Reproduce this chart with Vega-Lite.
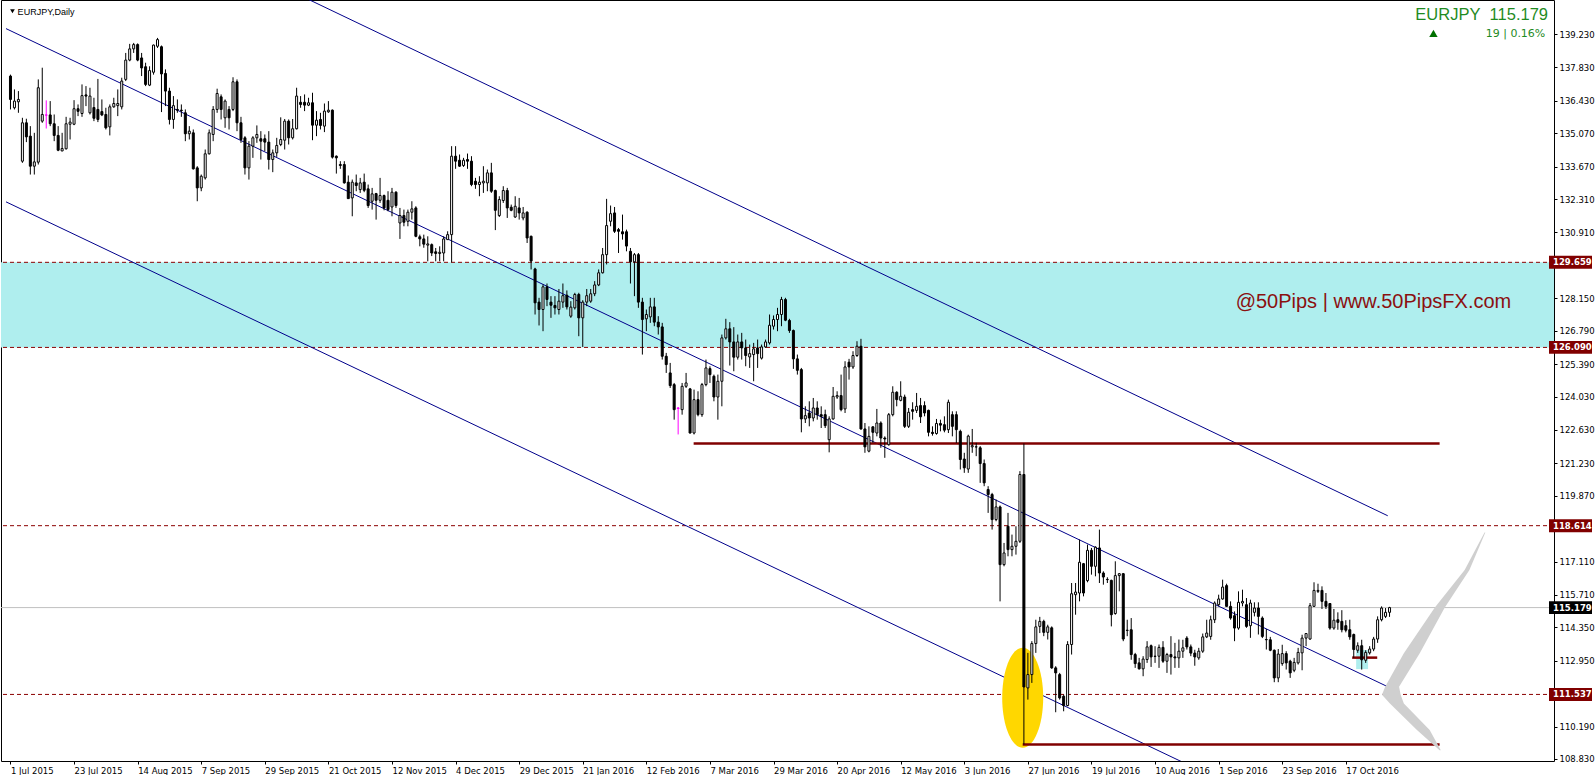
{
  "$schema": "https://vega.github.io/schema/vega-lite/v6.json",
  "width": 1553,
  "height": 761,
  "padding": 0,
  "background": "#FFFFFF",
  "config": {"font": "DejaVu Sans", "view": {"stroke": "#000000", "strokeWidth": 1}},
  "datasets": {
    "one": [{}],
    "zone": [{"lo": 126.09, "hi": 129.659}],
    "levels": [{"level": 129.659}, {"level": 126.09}, {"level": 118.614}, {"level": 111.537}],
    "price": [{"level": 115.179}],
    "tags": [{"level": 129.659, "kind": "level"}, {"level": 126.09, "kind": "level"}, {"level": 118.614, "kind": "level"}, {"level": 111.537, "kind": "level"}, {"level": 115.179, "kind": "price"}],
    "channel": [
      {"line": "upper", "i": 60, "p": 141.88}, {"line": "upper", "i": 346.55, "p": 119.03},
      {"line": "middle", "i": -1.125, "p": 139.46}, {"line": "middle", "i": 346.55, "p": 111.86},
      {"line": "lower", "i": -1.125, "p": 132.195}, {"line": "lower", "i": 346.55, "p": 104.6}
    ],
    "support": [{"from": 171.9, "to": 359.6, "level": 122.06}, {"from": 254.7, "to": 359.6, "level": 109.44}, {"from": 337.6, "to": 343.9, "level": 113.08}],
    "box": [{"from": 338.6, "to": 341.6, "lo": 112.6, "hi": 113.4}],
    "ellipse": [{"i": 254.7, "p": 111.4}],
    "chevron": [
      {"p": 118.33, "a": 370.9, "b": 371.1},
      {"p": 116.75, "a": 365.9, "b": 367.1},
      {"p": 115.18, "a": 358.4, "b": 360.9},
      {"p": 113.26, "a": 350.6, "b": 354.6},
      {"p": 111.86, "a": 345.9, "b": 349.4},
      {"p": 111.52, "a": 345.1, "b": 349.8},
      {"p": 111.16, "a": 347.1, "b": 350.6},
      {"p": 110.04, "a": 353.9, "b": 357.1},
      {"p": 109.2, "a": 359.6, "b": 359.9}
    ],
    "candles": [
      {"i":0,"o":137.47,"h":137.53,"l":136.07,"c":136.49},
      {"i":1,"o":136.14,"h":136.91,"l":136.07,"c":136.42},
      {"i":2,"o":136.39,"h":136.84,"l":135.93,"c":136.49},
      {"i":3,"o":133.90,"h":135.72,"l":133.83,"c":135.51},
      {"i":4,"o":135.51,"h":135.68,"l":134.70,"c":134.92},
      {"i":5,"o":134.95,"h":135.37,"l":133.34,"c":133.69},
      {"i":6,"o":133.69,"h":135.09,"l":133.34,"c":133.87},
      {"i":7,"o":133.86,"h":137.33,"l":133.76,"c":136.98},
      {"i":8,"o":135.58,"h":137.82,"l":135.51,"c":135.86},
      {"i":9,"o":135.83,"h":136.45,"l":135.27,"c":135.84,"sig":true},
      {"i":10,"o":135.84,"h":136.42,"l":135.37,"c":135.47},
      {"i":11,"o":135.47,"h":135.86,"l":134.74,"c":134.98},
      {"i":12,"o":134.98,"h":135.37,"l":134.32,"c":134.36},
      {"i":13,"o":134.33,"h":135.09,"l":134.32,"c":134.43},
      {"i":14,"o":134.42,"h":135.76,"l":134.39,"c":135.47},
      {"i":15,"o":135.45,"h":135.72,"l":134.81,"c":135.54},
      {"i":16,"o":135.45,"h":136.46,"l":135.41,"c":136.10},
      {"i":17,"o":136.10,"h":136.28,"l":135.79,"c":135.99},
      {"i":18,"o":135.90,"h":137.12,"l":135.76,"c":136.65},
      {"i":19,"o":136.68,"h":137.05,"l":136.21,"c":136.63},
      {"i":20,"o":135.93,"h":136.98,"l":135.86,"c":136.63},
      {"i":21,"o":136.15,"h":136.56,"l":135.58,"c":135.70},
      {"i":22,"o":136.07,"h":137.35,"l":135.54,"c":135.65},
      {"i":23,"o":135.98,"h":136.49,"l":135.79,"c":135.84},
      {"i":24,"o":135.86,"h":136.14,"l":135.23,"c":135.30},
      {"i":25,"o":135.34,"h":136.28,"l":134.98,"c":136.18},
      {"i":26,"o":136.18,"h":136.56,"l":136.14,"c":136.32},
      {"i":27,"o":136.23,"h":136.91,"l":135.79,"c":136.32},
      {"i":28,"o":136.18,"h":137.40,"l":136.07,"c":137.26},
      {"i":29,"o":137.33,"h":138.44,"l":137.26,"c":138.14},
      {"i":30,"o":138.14,"h":138.82,"l":138.09,"c":138.61},
      {"i":31,"o":138.61,"h":138.86,"l":138.44,"c":138.79},
      {"i":32,"o":138.79,"h":138.84,"l":138.09,"c":138.14},
      {"i":33,"o":138.23,"h":138.44,"l":137.47,"c":137.81},
      {"i":34,"o":137.86,"h":138.03,"l":137.05,"c":137.12},
      {"i":35,"o":137.09,"h":137.88,"l":137.05,"c":137.70},
      {"i":36,"o":137.63,"h":138.79,"l":137.53,"c":138.77},
      {"i":37,"o":138.72,"h":139.07,"l":138.65,"c":139.00},
      {"i":38,"o":138.70,"h":138.75,"l":135.96,"c":137.56},
      {"i":39,"o":137.58,"h":137.75,"l":136.21,"c":136.84},
      {"i":40,"o":136.84,"h":136.98,"l":135.44,"c":135.65},
      {"i":41,"o":135.65,"h":136.63,"l":135.26,"c":136.23},
      {"i":42,"o":136.07,"h":136.49,"l":135.93,"c":136.04},
      {"i":43,"o":136.04,"h":136.28,"l":135.76,"c":136.02},
      {"i":44,"o":135.93,"h":136.07,"l":134.74,"c":135.05},
      {"i":45,"o":135.05,"h":135.37,"l":134.81,"c":135.16},
      {"i":46,"o":135.09,"h":135.23,"l":133.55,"c":133.58},
      {"i":47,"o":133.62,"h":133.69,"l":132.22,"c":132.78},
      {"i":48,"o":132.78,"h":133.34,"l":132.64,"c":133.27},
      {"i":49,"o":133.20,"h":134.39,"l":133.13,"c":134.21},
      {"i":50,"o":134.21,"h":135.23,"l":134.18,"c":135.09},
      {"i":51,"o":135.02,"h":136.21,"l":134.74,"c":136.07},
      {"i":52,"o":136.07,"h":136.94,"l":135.93,"c":136.74},
      {"i":53,"o":136.60,"h":136.70,"l":135.65,"c":136.07},
      {"i":54,"o":135.72,"h":136.49,"l":135.30,"c":136.42},
      {"i":55,"o":136.07,"h":136.21,"l":135.23,"c":135.72},
      {"i":56,"o":136.07,"h":137.42,"l":136.00,"c":137.23},
      {"i":57,"o":137.23,"h":137.33,"l":135.16,"c":135.51},
      {"i":58,"o":135.51,"h":135.76,"l":134.67,"c":134.81},
      {"i":59,"o":134.88,"h":134.95,"l":133.34,"c":133.62},
      {"i":60,"o":133.62,"h":134.74,"l":133.13,"c":134.53},
      {"i":61,"o":134.53,"h":134.95,"l":134.04,"c":134.88},
      {"i":62,"o":134.88,"h":135.40,"l":134.67,"c":135.02},
      {"i":63,"o":134.84,"h":135.16,"l":133.97,"c":134.74},
      {"i":64,"o":134.84,"h":135.02,"l":134.32,"c":134.70},
      {"i":65,"o":134.70,"h":135.16,"l":133.55,"c":133.97},
      {"i":66,"o":133.97,"h":134.39,"l":133.44,"c":134.25},
      {"i":67,"o":134.25,"h":134.88,"l":134.08,"c":134.56},
      {"i":68,"o":134.60,"h":135.74,"l":134.53,"c":134.81},
      {"i":69,"o":134.78,"h":135.67,"l":134.39,"c":135.58},
      {"i":70,"o":135.58,"h":135.65,"l":134.60,"c":134.88},
      {"i":71,"o":134.88,"h":135.67,"l":134.81,"c":135.26},
      {"i":72,"o":135.26,"h":136.98,"l":135.23,"c":136.63},
      {"i":73,"o":136.37,"h":136.63,"l":136.14,"c":136.28},
      {"i":74,"o":136.37,"h":136.70,"l":136.00,"c":136.25},
      {"i":75,"o":136.25,"h":136.56,"l":136.21,"c":136.35},
      {"i":76,"o":136.35,"h":136.77,"l":134.78,"c":135.41},
      {"i":77,"o":135.41,"h":136.00,"l":134.95,"c":135.62},
      {"i":78,"o":135.65,"h":135.93,"l":135.23,"c":135.40},
      {"i":79,"o":135.37,"h":136.32,"l":135.12,"c":136.00},
      {"i":80,"o":135.97,"h":136.42,"l":135.93,"c":136.04},
      {"i":81,"o":136.04,"h":136.07,"l":134.01,"c":134.07},
      {"i":82,"o":134.11,"h":134.14,"l":133.38,"c":134.04},
      {"i":83,"o":133.76,"h":133.90,"l":133.58,"c":133.72},
      {"i":84,"o":133.76,"h":133.90,"l":132.96,"c":132.99},
      {"i":85,"o":133.02,"h":133.30,"l":132.32,"c":132.33},
      {"i":86,"o":132.36,"h":133.13,"l":131.59,"c":133.02},
      {"i":87,"o":132.99,"h":133.34,"l":132.64,"c":132.88},
      {"i":88,"o":132.71,"h":133.20,"l":132.57,"c":132.99},
      {"i":89,"o":133.02,"h":133.38,"l":132.60,"c":132.68},
      {"i":90,"o":132.74,"h":132.92,"l":131.94,"c":132.04},
      {"i":91,"o":132.22,"h":132.78,"l":131.87,"c":132.53},
      {"i":92,"o":132.54,"h":132.57,"l":131.45,"c":132.26},
      {"i":93,"o":132.26,"h":133.20,"l":132.15,"c":132.46},
      {"i":94,"o":132.46,"h":132.50,"l":131.84,"c":131.94},
      {"i":95,"o":132.26,"h":132.64,"l":131.80,"c":131.87},
      {"i":96,"o":131.98,"h":132.78,"l":131.59,"c":132.60},
      {"i":97,"o":132.60,"h":132.64,"l":131.94,"c":132.04},
      {"i":98,"o":131.31,"h":131.94,"l":130.64,"c":131.62},
      {"i":99,"o":131.62,"h":131.87,"l":131.17,"c":131.34},
      {"i":100,"o":131.38,"h":131.87,"l":131.17,"c":131.76},
      {"i":101,"o":131.76,"h":132.22,"l":131.45,"c":131.90},
      {"i":102,"o":131.94,"h":132.01,"l":130.71,"c":130.75},
      {"i":103,"o":130.73,"h":130.82,"l":130.33,"c":130.64},
      {"i":104,"o":130.64,"h":130.82,"l":130.27,"c":130.42},
      {"i":105,"o":130.38,"h":130.75,"l":129.70,"c":130.43},
      {"i":106,"o":130.40,"h":130.45,"l":129.92,"c":130.05},
      {"i":107,"o":130.10,"h":130.26,"l":129.70,"c":130.03},
      {"i":108,"o":130.03,"h":130.33,"l":129.70,"c":130.08},
      {"i":109,"o":130.05,"h":130.75,"l":129.70,"c":130.64},
      {"i":110,"o":130.61,"h":130.96,"l":130.61,"c":130.82},
      {"i":111,"o":130.82,"h":134.53,"l":129.66,"c":134.11},
      {"i":112,"o":134.11,"h":134.53,"l":133.58,"c":133.90},
      {"i":113,"o":133.94,"h":134.18,"l":133.66,"c":133.69},
      {"i":114,"o":133.72,"h":134.04,"l":133.66,"c":133.94},
      {"i":115,"o":133.97,"h":134.22,"l":133.58,"c":133.90},
      {"i":116,"o":133.90,"h":134.11,"l":132.85,"c":132.92},
      {"i":117,"o":133.06,"h":133.20,"l":132.74,"c":132.92},
      {"i":118,"o":132.92,"h":133.27,"l":132.43,"c":133.02},
      {"i":119,"o":132.99,"h":133.69,"l":132.57,"c":133.06},
      {"i":120,"o":132.99,"h":133.55,"l":132.64,"c":133.41},
      {"i":121,"o":133.41,"h":133.83,"l":132.57,"c":132.64},
      {"i":122,"o":132.67,"h":132.71,"l":131.01,"c":131.84},
      {"i":123,"o":131.62,"h":132.43,"l":131.56,"c":132.29},
      {"i":124,"o":132.25,"h":132.85,"l":132.15,"c":132.67},
      {"i":125,"o":132.67,"h":132.78,"l":131.52,"c":131.94},
      {"i":126,"o":131.97,"h":132.08,"l":131.80,"c":131.84},
      {"i":127,"o":131.56,"h":132.43,"l":131.52,"c":132.01},
      {"i":128,"o":131.94,"h":132.36,"l":131.45,"c":131.73},
      {"i":129,"o":131.52,"h":131.98,"l":131.42,"c":131.73},
      {"i":130,"o":131.76,"h":131.80,"l":130.47,"c":130.68},
      {"i":131,"o":130.75,"h":130.78,"l":129.36,"c":129.71},
      {"i":132,"o":129.38,"h":129.43,"l":127.47,"c":127.96},
      {"i":133,"o":127.99,"h":128.17,"l":127.01,"c":127.68},
      {"i":134,"o":127.68,"h":128.73,"l":126.77,"c":128.63},
      {"i":135,"o":128.63,"h":128.77,"l":127.82,"c":128.10},
      {"i":136,"o":127.99,"h":128.24,"l":127.33,"c":127.86},
      {"i":137,"o":127.85,"h":128.24,"l":127.47,"c":127.75},
      {"i":138,"o":127.68,"h":128.54,"l":127.47,"c":128.03},
      {"i":139,"o":127.99,"h":128.77,"l":127.75,"c":128.26},
      {"i":140,"o":128.28,"h":128.48,"l":127.68,"c":127.79},
      {"i":141,"o":127.40,"h":128.03,"l":127.33,"c":127.78},
      {"i":142,"o":127.75,"h":128.38,"l":127.68,"c":128.31},
      {"i":143,"o":128.31,"h":128.38,"l":126.56,"c":127.33},
      {"i":144,"o":127.33,"h":128.07,"l":126.11,"c":127.99},
      {"i":145,"o":127.99,"h":128.54,"l":127.82,"c":128.26},
      {"i":146,"o":128.03,"h":128.54,"l":127.96,"c":128.34},
      {"i":147,"o":128.34,"h":128.87,"l":128.24,"c":128.71},
      {"i":148,"o":128.71,"h":129.36,"l":128.66,"c":129.22},
      {"i":149,"o":129.22,"h":130.26,"l":129.19,"c":129.98},
      {"i":150,"o":129.98,"h":132.32,"l":129.57,"c":131.20},
      {"i":151,"o":131.38,"h":132.04,"l":131.17,"c":131.70},
      {"i":152,"o":131.73,"h":131.98,"l":130.89,"c":130.96},
      {"i":153,"o":131.03,"h":131.10,"l":130.05,"c":130.96},
      {"i":154,"o":130.94,"h":131.66,"l":130.61,"c":130.85},
      {"i":155,"o":130.94,"h":131.03,"l":130.12,"c":130.34},
      {"i":156,"o":130.12,"h":130.26,"l":128.77,"c":129.68},
      {"i":157,"o":129.68,"h":130.05,"l":128.24,"c":129.98},
      {"i":158,"o":129.98,"h":130.05,"l":127.75,"c":127.99},
      {"i":159,"o":127.99,"h":128.17,"l":125.79,"c":127.26},
      {"i":160,"o":127.29,"h":127.68,"l":126.77,"c":127.47},
      {"i":161,"o":127.37,"h":128.17,"l":127.12,"c":127.79},
      {"i":162,"o":127.79,"h":128.17,"l":126.98,"c":127.15},
      {"i":163,"o":127.15,"h":127.40,"l":126.63,"c":126.95},
      {"i":164,"o":126.95,"h":127.12,"l":125.58,"c":125.72},
      {"i":165,"o":125.72,"h":125.86,"l":125.02,"c":125.37},
      {"i":166,"o":125.02,"h":125.44,"l":124.39,"c":124.49},
      {"i":167,"o":124.53,"h":124.60,"l":123.06,"c":123.48},
      {"i":168,"o":123.55,"h":123.59,"l":122.44,"c":123.53,"sig":true},
      {"i":169,"o":123.48,"h":124.60,"l":123.27,"c":124.46},
      {"i":170,"o":124.46,"h":125.02,"l":124.39,"c":124.60},
      {"i":171,"o":124.35,"h":124.39,"l":122.48,"c":122.50},
      {"i":172,"o":122.50,"h":124.32,"l":122.44,"c":123.90},
      {"i":173,"o":123.90,"h":124.25,"l":123.20,"c":123.27},
      {"i":174,"o":123.27,"h":124.60,"l":123.18,"c":124.53},
      {"i":175,"o":124.53,"h":125.58,"l":124.46,"c":125.23},
      {"i":176,"o":125.20,"h":125.30,"l":124.60,"c":124.95},
      {"i":177,"o":124.88,"h":124.95,"l":123.83,"c":124.01},
      {"i":178,"o":124.01,"h":124.95,"l":123.06,"c":124.67},
      {"i":179,"o":124.67,"h":126.63,"l":123.62,"c":126.49},
      {"i":180,"o":126.49,"h":127.29,"l":126.42,"c":126.87},
      {"i":181,"o":126.87,"h":127.15,"l":125.33,"c":126.32},
      {"i":182,"o":126.32,"h":126.94,"l":125.09,"c":125.68},
      {"i":183,"o":125.68,"h":126.63,"l":125.58,"c":126.32},
      {"i":184,"o":126.32,"h":126.70,"l":125.58,"c":126.07},
      {"i":185,"o":126.07,"h":126.42,"l":125.30,"c":125.75},
      {"i":186,"o":125.69,"h":126.21,"l":125.23,"c":125.83},
      {"i":187,"o":125.79,"h":126.28,"l":124.67,"c":126.03},
      {"i":188,"o":126.07,"h":126.42,"l":125.23,"c":125.83},
      {"i":189,"o":125.64,"h":126.21,"l":125.58,"c":126.11},
      {"i":190,"o":126.11,"h":126.42,"l":126.07,"c":126.32},
      {"i":191,"o":126.28,"h":127.47,"l":126.21,"c":127.02},
      {"i":192,"o":126.98,"h":127.43,"l":126.84,"c":127.26},
      {"i":193,"o":127.26,"h":127.75,"l":126.77,"c":127.47},
      {"i":194,"o":127.47,"h":128.21,"l":126.98,"c":128.10},
      {"i":195,"o":128.10,"h":128.17,"l":127.19,"c":127.23},
      {"i":196,"o":127.22,"h":127.29,"l":126.70,"c":126.80},
      {"i":197,"o":126.80,"h":126.84,"l":125.19,"c":125.61},
      {"i":198,"o":125.61,"h":125.79,"l":124.95,"c":125.13},
      {"i":199,"o":125.16,"h":125.23,"l":122.53,"c":123.09},
      {"i":200,"o":123.09,"h":123.62,"l":122.92,"c":123.23},
      {"i":201,"o":123.34,"h":123.83,"l":122.78,"c":123.13},
      {"i":202,"o":123.13,"h":123.97,"l":122.99,"c":123.55},
      {"i":203,"o":123.55,"h":123.83,"l":123.06,"c":123.27},
      {"i":204,"o":123.27,"h":123.62,"l":122.71,"c":123.20},
      {"i":205,"o":123.27,"h":123.48,"l":122.71,"c":122.81},
      {"i":206,"o":122.22,"h":123.20,"l":121.69,"c":123.09},
      {"i":207,"o":123.09,"h":124.43,"l":123.06,"c":124.04},
      {"i":208,"o":124.01,"h":124.25,"l":123.93,"c":124.07},
      {"i":209,"o":124.07,"h":124.95,"l":123.41,"c":123.48},
      {"i":210,"o":123.51,"h":125.51,"l":123.34,"c":125.27},
      {"i":211,"o":125.47,"h":125.61,"l":124.74,"c":125.27},
      {"i":212,"o":125.27,"h":125.93,"l":125.19,"c":125.75},
      {"i":213,"o":125.75,"h":126.35,"l":125.69,"c":126.14},
      {"i":214,"o":126.14,"h":126.45,"l":122.64,"c":122.67},
      {"i":215,"o":122.67,"h":122.92,"l":121.67,"c":121.92},
      {"i":216,"o":121.74,"h":122.78,"l":121.69,"c":122.36},
      {"i":217,"o":122.76,"h":122.78,"l":122.09,"c":122.53},
      {"i":218,"o":122.50,"h":123.51,"l":122.36,"c":122.92},
      {"i":219,"o":122.92,"h":122.99,"l":121.88,"c":122.29},
      {"i":220,"o":122.29,"h":122.36,"l":121.46,"c":122.25},
      {"i":221,"o":122.01,"h":123.34,"l":121.97,"c":123.27},
      {"i":222,"o":123.27,"h":124.46,"l":123.20,"c":124.21},
      {"i":223,"o":124.21,"h":124.25,"l":123.62,"c":123.90},
      {"i":224,"o":123.87,"h":124.67,"l":123.83,"c":124.04},
      {"i":225,"o":124.01,"h":124.11,"l":122.71,"c":122.78},
      {"i":226,"o":122.78,"h":123.55,"l":122.71,"c":123.37},
      {"i":227,"o":123.48,"h":123.79,"l":123.06,"c":123.41},
      {"i":228,"o":123.45,"h":124.18,"l":123.34,"c":123.62},
      {"i":229,"o":123.65,"h":123.97,"l":122.92,"c":123.18},
      {"i":230,"o":123.65,"h":123.83,"l":123.20,"c":123.34},
      {"i":231,"o":123.45,"h":123.48,"l":122.36,"c":122.53},
      {"i":232,"o":122.53,"h":122.78,"l":122.39,"c":122.48},
      {"i":233,"o":122.48,"h":123.09,"l":122.43,"c":122.90},
      {"i":234,"o":122.90,"h":123.06,"l":122.57,"c":122.83},
      {"i":235,"o":122.85,"h":123.20,"l":122.53,"c":122.62},
      {"i":236,"o":122.64,"h":123.90,"l":122.50,"c":123.79},
      {"i":237,"o":123.27,"h":123.41,"l":122.36,"c":122.78},
      {"i":238,"o":123.27,"h":123.41,"l":122.08,"c":122.64},
      {"i":239,"o":122.57,"h":122.64,"l":120.97,"c":121.39},
      {"i":240,"o":121.41,"h":121.67,"l":120.83,"c":121.04},
      {"i":241,"o":120.99,"h":122.43,"l":120.83,"c":122.37},
      {"i":242,"o":121.92,"h":122.67,"l":121.67,"c":121.97},
      {"i":243,"o":121.92,"h":122.09,"l":121.53,"c":121.915},
      {"i":244,"o":121.88,"h":121.95,"l":120.41,"c":121.22},
      {"i":245,"o":121.22,"h":121.39,"l":120.27,"c":120.41},
      {"i":246,"o":120.13,"h":120.27,"l":119.15,"c":119.92},
      {"i":247,"o":119.92,"h":119.99,"l":118.45,"c":118.87},
      {"i":248,"o":118.87,"h":119.71,"l":118.80,"c":119.40},
      {"i":249,"o":119.40,"h":119.46,"l":115.44,"c":116.98},
      {"i":250,"o":116.98,"h":117.89,"l":116.91,"c":117.47},
      {"i":251,"o":118.59,"h":119.15,"l":117.33,"c":117.61},
      {"i":252,"o":117.61,"h":118.24,"l":117.33,"c":117.75},
      {"i":253,"o":117.75,"h":118.59,"l":117.40,"c":117.96},
      {"i":254,"o":117.96,"h":120.90,"l":117.89,"c":120.76},
      {"i":255,"o":120.76,"h":122.06,"l":109.44,"c":111.85},
      {"i":256,"o":111.81,"h":113.28,"l":111.32,"c":112.37},
      {"i":257,"o":112.37,"h":113.77,"l":112.02,"c":113.67},
      {"i":258,"o":113.67,"h":114.67,"l":113.28,"c":114.37},
      {"i":259,"o":114.39,"h":114.79,"l":114.11,"c":114.60},
      {"i":260,"o":114.60,"h":114.67,"l":113.98,"c":114.14},
      {"i":261,"o":114.14,"h":114.46,"l":113.84,"c":114.37},
      {"i":262,"o":114.33,"h":114.39,"l":112.61,"c":112.65},
      {"i":263,"o":112.65,"h":112.72,"l":110.79,"c":112.44},
      {"i":264,"o":112.37,"h":112.44,"l":111.32,"c":111.39},
      {"i":265,"o":111.46,"h":111.53,"l":110.83,"c":111.07},
      {"i":266,"o":111.07,"h":113.77,"l":111.04,"c":113.63},
      {"i":267,"o":113.63,"h":116.21,"l":113.21,"c":115.76},
      {"i":268,"o":115.72,"h":116.21,"l":114.88,"c":115.83},
      {"i":269,"o":115.79,"h":118.03,"l":115.44,"c":117.08},
      {"i":270,"o":117.02,"h":117.05,"l":115.65,"c":115.79},
      {"i":271,"o":116.31,"h":117.82,"l":116.24,"c":117.58},
      {"i":272,"o":117.58,"h":117.68,"l":116.56,"c":116.91},
      {"i":273,"o":116.91,"h":117.75,"l":116.49,"c":117.71},
      {"i":274,"o":117.68,"h":118.45,"l":116.21,"c":116.63},
      {"i":275,"o":116.63,"h":116.70,"l":116.14,"c":116.46},
      {"i":276,"o":116.36,"h":116.45,"l":116.21,"c":116.35},
      {"i":277,"o":116.32,"h":116.35,"l":114.39,"c":114.88},
      {"i":278,"o":114.93,"h":117.12,"l":114.88,"c":116.52},
      {"i":279,"o":116.52,"h":116.63,"l":115.86,"c":116.60},
      {"i":280,"o":116.60,"h":116.63,"l":113.77,"c":113.86},
      {"i":281,"o":114.23,"h":114.67,"l":113.98,"c":114.22},
      {"i":282,"o":114.25,"h":114.74,"l":112.99,"c":113.21},
      {"i":283,"o":113.21,"h":113.28,"l":112.65,"c":112.83},
      {"i":284,"o":112.86,"h":113.07,"l":112.58,"c":112.61},
      {"i":285,"o":112.61,"h":113.14,"l":112.30,"c":113.02},
      {"i":286,"o":113.00,"h":113.77,"l":112.86,"c":113.53},
      {"i":287,"o":113.58,"h":113.63,"l":112.69,"c":113.11},
      {"i":288,"o":113.14,"h":113.56,"l":112.86,"c":113.13},
      {"i":289,"o":113.14,"h":113.63,"l":112.65,"c":113.51},
      {"i":290,"o":113.51,"h":113.77,"l":112.86,"c":112.93},
      {"i":291,"o":112.93,"h":113.28,"l":112.44,"c":113.21},
      {"i":292,"o":113.21,"h":113.98,"l":112.37,"c":113.11},
      {"i":293,"o":113.11,"h":113.70,"l":112.65,"c":113.07},
      {"i":294,"o":113.07,"h":113.84,"l":112.65,"c":113.35},
      {"i":295,"o":113.35,"h":113.83,"l":113.07,"c":113.49},
      {"i":296,"o":113.90,"h":113.98,"l":113.42,"c":113.53},
      {"i":297,"o":113.53,"h":113.63,"l":113.14,"c":113.27},
      {"i":298,"o":113.27,"h":113.41,"l":112.74,"c":113.11},
      {"i":299,"o":113.07,"h":113.49,"l":112.99,"c":113.35},
      {"i":300,"o":113.35,"h":114.09,"l":113.28,"c":113.95},
      {"i":301,"o":113.95,"h":114.67,"l":113.90,"c":114.11},
      {"i":302,"o":113.97,"h":114.84,"l":113.83,"c":114.67},
      {"i":303,"o":114.67,"h":115.44,"l":114.53,"c":115.37},
      {"i":304,"o":115.30,"h":115.72,"l":115.23,"c":115.54},
      {"i":305,"o":115.54,"h":116.35,"l":115.51,"c":116.04},
      {"i":306,"o":116.10,"h":116.18,"l":115.21,"c":115.23},
      {"i":307,"o":115.23,"h":115.44,"l":114.67,"c":114.74},
      {"i":308,"o":114.84,"h":115.02,"l":113.77,"c":114.32},
      {"i":309,"o":114.32,"h":115.86,"l":114.25,"c":115.40},
      {"i":310,"o":115.37,"h":115.93,"l":115.23,"c":115.44},
      {"i":311,"o":115.30,"h":115.58,"l":114.33,"c":114.39},
      {"i":312,"o":114.42,"h":115.51,"l":113.91,"c":115.37},
      {"i":313,"o":114.98,"h":115.40,"l":114.81,"c":115.16},
      {"i":314,"o":115.16,"h":115.40,"l":114.05,"c":114.81},
      {"i":315,"o":114.74,"h":114.81,"l":113.90,"c":113.97},
      {"i":316,"o":113.84,"h":114.28,"l":113.42,"c":113.83},
      {"i":317,"o":113.83,"h":113.95,"l":113.35,"c":113.39},
      {"i":318,"o":113.39,"h":113.42,"l":112.05,"c":112.23},
      {"i":319,"o":112.23,"h":113.44,"l":112.05,"c":113.23},
      {"i":320,"o":112.83,"h":113.62,"l":112.74,"c":113.25},
      {"i":321,"o":113.25,"h":113.35,"l":112.58,"c":112.86},
      {"i":322,"o":112.93,"h":112.99,"l":112.23,"c":112.44},
      {"i":323,"o":112.55,"h":113.07,"l":112.47,"c":112.88},
      {"i":324,"o":112.86,"h":113.49,"l":112.79,"c":113.30},
      {"i":325,"o":113.28,"h":114.04,"l":112.55,"c":113.90},
      {"i":326,"o":113.90,"h":114.11,"l":113.56,"c":114.09},
      {"i":327,"o":113.86,"h":115.37,"l":113.83,"c":115.26},
      {"i":328,"o":115.23,"h":116.24,"l":115.23,"c":115.90},
      {"i":329,"o":115.86,"h":116.18,"l":115.79,"c":115.90},
      {"i":330,"o":115.90,"h":116.07,"l":115.12,"c":115.44},
      {"i":331,"o":115.44,"h":115.79,"l":115.12,"c":115.23},
      {"i":332,"o":115.35,"h":115.37,"l":114.25,"c":114.32},
      {"i":333,"o":114.32,"h":115.12,"l":114.25,"c":114.65},
      {"i":334,"o":114.67,"h":114.98,"l":114.25,"c":114.56},
      {"i":335,"o":114.60,"h":115.07,"l":114.14,"c":114.25},
      {"i":336,"o":114.42,"h":114.65,"l":114.14,"c":114.23},
      {"i":337,"o":114.25,"h":114.67,"l":113.83,"c":113.95},
      {"i":338,"o":114.05,"h":114.09,"l":113.07,"c":113.42},
      {"i":339,"o":113.39,"h":113.72,"l":113.28,"c":113.58},
      {"i":340,"o":113.58,"h":113.83,"l":112.58,"c":112.99},
      {"i":341,"o":112.97,"h":113.39,"l":112.86,"c":113.30},
      {"i":342,"o":113.28,"h":113.56,"l":113.21,"c":113.44},
      {"i":343,"o":113.44,"h":113.95,"l":113.35,"c":113.86},
      {"i":344,"o":113.86,"h":114.81,"l":113.70,"c":114.67},
      {"i":345,"o":114.67,"h":115.23,"l":114.60,"c":115.16},
      {"i":346,"o":114.81,"h":115.16,"l":114.74,"c":114.98},
      {"i":347,"o":114.98,"h":115.21,"l":114.79,"c":115.179}
    ]
  },
  "layer": [
    {
      "data": {"name": "zone"},
      "mark": {"type": "rect", "color": "#AFEEEE"},
      "encoding": {
        "y": {"field": "hi", "type": "quantitative", "scale": {"domain": [108.745, 140.66], "nice": false, "zero": false}},
        "y2": {"field": "lo"}
      }
    },
    {
      "data": {"name": "levels"},
      "mark": {"type": "rule", "color": "#8B0000", "strokeWidth": 1, "strokeDash": [4, 3]},
      "encoding": {
        "y": {"field": "level", "type": "quantitative", "scale": {"domain": [108.745, 140.66], "nice": false, "zero": false}}
      }
    },
    {
      "data": {"name": "price"},
      "mark": {"type": "rule", "color": "#C0C0C0", "strokeWidth": 1},
      "encoding": {
        "y": {"field": "level", "type": "quantitative", "scale": {"domain": [108.745, 140.66], "nice": false, "zero": false}}
      }
    },
    {
      "data": {"name": "channel"},
      "mark": {"type": "line", "color": "#00008B", "strokeWidth": 1, "clip": true},
      "encoding": {
        "x": {"field": "i", "type": "quantitative", "scale": {"domain": [-1.125, 387.125], "nice": false, "zero": false}},
        "y": {"field": "p", "type": "quantitative", "scale": {"domain": [108.745, 140.66], "nice": false, "zero": false}},
        "detail": {"field": "line"}
      }
    },
    {
      "data": {"name": "box"},
      "mark": {"type": "rect", "color": "#AFEEEE"},
      "encoding": {
        "x": {"field": "from", "type": "quantitative", "scale": {"domain": [-1.125, 387.125], "nice": false, "zero": false}},
        "x2": {"field": "to"},
        "y": {"field": "hi", "type": "quantitative", "scale": {"domain": [108.745, 140.66], "nice": false, "zero": false}},
        "y2": {"field": "lo"}
      }
    },
    {
      "data": {"name": "ellipse"},
      "mark": {"type": "point", "filled": true, "color": "#FFD700", "opacity": 1, "size": 10000,
        "shape": "M0,-1C0.2264,-1 0.41,-0.5523 0.41,0C0.41,0.5523 0.2264,1 0,1C-0.2264,1 -0.41,0.5523 -0.41,0C-0.41,-0.5523 -0.2264,-1 0,-1Z"},
      "encoding": {
        "x": {"field": "i", "type": "quantitative", "scale": {"domain": [-1.125, 387.125], "nice": false, "zero": false}},
        "y": {"field": "p", "type": "quantitative", "scale": {"domain": [108.745, 140.66], "nice": false, "zero": false}}
      }
    },
    {
      "data": {"name": "support"},
      "mark": {"type": "rule", "color": "#800000", "strokeWidth": 2.5},
      "encoding": {
        "x": {"field": "from", "type": "quantitative", "scale": {"domain": [-1.125, 387.125], "nice": false, "zero": false}},
        "x2": {"field": "to"},
        "y": {"field": "level", "type": "quantitative", "scale": {"domain": [108.745, 140.66], "nice": false, "zero": false}}
      }
    },
    {
      "data": {"name": "chevron"},
      "mark": {"type": "area", "orient": "horizontal", "color": "#CFCFCF", "opacity": 1, "clip": true},
      "encoding": {
        "x": {"field": "a", "type": "quantitative", "scale": {"domain": [-1.125, 387.125], "nice": false, "zero": false}},
        "x2": {"field": "b"},
        "y": {"field": "p", "type": "quantitative", "scale": {"domain": [108.745, 140.66], "nice": false, "zero": false}}
      }
    },
    {
      "data": {"name": "candles"},
      "mark": {"type": "rule", "strokeWidth": 1},
      "encoding": {
        "x": {"field": "i", "type": "quantitative", "scale": {"domain": [-1.125, 387.125], "nice": false, "zero": false},
          "axis": {"orient": "bottom", "title": null, "grid": false, "domain": false, "ticks": true, "tickSize": 3, "tickColor": "#000000",
            "values": [0,16,32,48,64,80,96,112,128,144,160,176,192,208,224,240,256,272,288,304,320,336],
            "labelExpr": "['1 Jul 2015','23 Jul 2015','14 Aug 2015','7 Sep 2015','29 Sep 2015','21 Oct 2015','12 Nov 2015','4 Dec 2015','29 Dec 2015','21 Jan 2016','12 Feb 2016','7 Mar 2016','29 Mar 2016','20 Apr 2016','12 May 2016','3 Jun 2016','27 Jun 2016','19 Jul 2016','10 Aug 2016','1 Sep 2016','23 Sep 2016','17 Oct 2016'][round(datum.value/16)]",
            "labelAlign": "left", "labelBaseline": "top", "labelPadding": 2, "labelOffset": 0, "labelFont": "DejaVu Sans", "labelFontSize": 8.5, "labelColor": "#000000", "labelOverlap": false, "labelFlush": false}},
        "y": {"field": "l", "type": "quantitative", "scale": {"domain": [108.745, 140.66], "nice": false, "zero": false},
          "axis": {"orient": "right", "title": null, "grid": false, "domain": false, "ticks": true, "tickSize": 3, "tickColor": "#000000",
            "values": [139.23,137.83,136.43,135.07,133.67,132.31,130.91,128.15,126.79,125.39,124.03,122.63,121.23,119.87,117.11,115.71,114.35,112.95,110.19,108.83],
            "format": ".3f", "labelPadding": 2, "labelFont": "DejaVu Sans", "labelFontSize": 8.5, "labelColor": "#000000", "labelOverlap": false, "labelFlush": false}},
        "y2": {"field": "h"},
        "color": {"condition": {"test": "datum.sig", "value": "#FF00FF"}, "value": "#000000"}
      }
    },
    {
      "data": {"name": "candles"},
      "mark": {"type": "bar", "orient": "vertical", "width": 2, "strokeWidth": 1},
      "encoding": {
        "x": {"field": "i", "type": "quantitative", "scale": {"domain": [-1.125, 387.125], "nice": false, "zero": false}},
        "y": {"field": "o", "type": "quantitative", "scale": {"domain": [108.745, 140.66], "nice": false, "zero": false}},
        "y2": {"field": "c"},
        "fill": {"condition": [{"test": "datum.sig", "value": "#FF00FF"}, {"test": "datum.c >= datum.o", "value": "#FFFFFF"}], "value": "#000000"},
        "stroke": {"condition": {"test": "datum.sig", "value": "#FF00FF"}, "value": "#000000"}
      }
    },
    {
      "data": {"name": "tags"},
      "mark": {"type": "point", "filled": true, "opacity": 1, "size": 1849, "shape": "M0,-0.3L2,-0.3L2,0.3L0,0.3Z"},
      "encoding": {
        "x": {"datum": 387.125, "type": "quantitative", "scale": {"domain": [-1.125, 387.125], "nice": false, "zero": false}},
        "y": {"field": "level", "type": "quantitative", "scale": {"domain": [108.745, 140.66], "nice": false, "zero": false}},
        "color": {"condition": {"test": "datum.kind === 'price'", "value": "#000000"}, "value": "#800000"}
      }
    },
    {
      "data": {"name": "tags"},
      "mark": {"type": "text", "align": "left", "baseline": "middle", "dx": 4, "font": "DejaVu Sans", "fontSize": 8.5, "fontWeight": "bold", "color": "#FFFFFF"},
      "encoding": {
        "x": {"datum": 387.125, "type": "quantitative", "scale": {"domain": [-1.125, 387.125], "nice": false, "zero": false}},
        "y": {"field": "level", "type": "quantitative", "scale": {"domain": [108.745, 140.66], "nice": false, "zero": false}},
        "text": {"field": "level", "format": ".3f"}
      }
    },
    {
      "data": {"name": "one"},
      "mark": {"type": "text", "align": "center", "baseline": "alphabetic", "font": "Liberation Sans", "fontSize": 20, "color": "#8B1010"},
      "encoding": {
        "x": {"datum": 342.95, "type": "quantitative", "scale": {"domain": [-1.125, 387.125], "nice": false, "zero": false}},
        "y": {"datum": 127.75, "type": "quantitative", "scale": {"domain": [108.745, 140.66], "nice": false, "zero": false}},
        "text": {"value": "@50Pips | www.50PipsFX.com"}
      }
    },
    {
      "data": {"name": "one"},
      "mark": {"type": "text", "align": "right", "baseline": "alphabetic", "font": "Liberation Sans", "fontSize": 16.5, "color": "#1F8B1F"},
      "encoding": {
        "x": {"datum": 386.875, "type": "quantitative", "scale": {"domain": [-1.125, 387.125], "nice": false, "zero": false}},
        "y": {"datum": 139.81, "type": "quantitative", "scale": {"domain": [108.745, 140.66], "nice": false, "zero": false}},
        "text": {"value": "EURJPY\u00a0\u00a0115.179"}
      }
    },
    {
      "data": {"name": "one"},
      "mark": {"type": "text", "align": "right", "baseline": "alphabetic", "font": "DejaVu Sans", "fontSize": 11, "color": "#1F8B1F"},
      "encoding": {
        "x": {"datum": 386.2, "type": "quantitative", "scale": {"domain": [-1.125, 387.125], "nice": false, "zero": false}},
        "y": {"datum": 139.1, "type": "quantitative", "scale": {"domain": [108.745, 140.66], "nice": false, "zero": false}},
        "text": {"value": "19 | 0.16%"}
      }
    },
    {
      "data": {"name": "one"},
      "mark": {"type": "point", "shape": "triangle-up", "filled": true, "opacity": 1, "size": 70, "color": "#007000"},
      "encoding": {
        "x": {"datum": 358.05, "type": "quantitative", "scale": {"domain": [-1.125, 387.125], "nice": false, "zero": false}},
        "y": {"datum": 139.26, "type": "quantitative", "scale": {"domain": [108.745, 140.66], "nice": false, "zero": false}}
      }
    },
    {
      "data": {"name": "one"},
      "mark": {"type": "point", "shape": "triangle-down", "filled": true, "opacity": 1, "size": 22, "color": "#000000"},
      "encoding": {
        "x": {"datum": 0.5, "type": "quantitative", "scale": {"domain": [-1.125, 387.125], "nice": false, "zero": false}},
        "y": {"datum": 140.19, "type": "quantitative", "scale": {"domain": [108.745, 140.66], "nice": false, "zero": false}}
      }
    },
    {
      "data": {"name": "one"},
      "mark": {"type": "text", "align": "left", "baseline": "alphabetic", "font": "Liberation Sans", "fontSize": 9, "color": "#000000"},
      "encoding": {
        "x": {"datum": 1.8, "type": "quantitative", "scale": {"domain": [-1.125, 387.125], "nice": false, "zero": false}},
        "y": {"datum": 140.02, "type": "quantitative", "scale": {"domain": [108.745, 140.66], "nice": false, "zero": false}},
        "text": {"value": "EURJPY,Daily"}
      }
    }
  ]
}
